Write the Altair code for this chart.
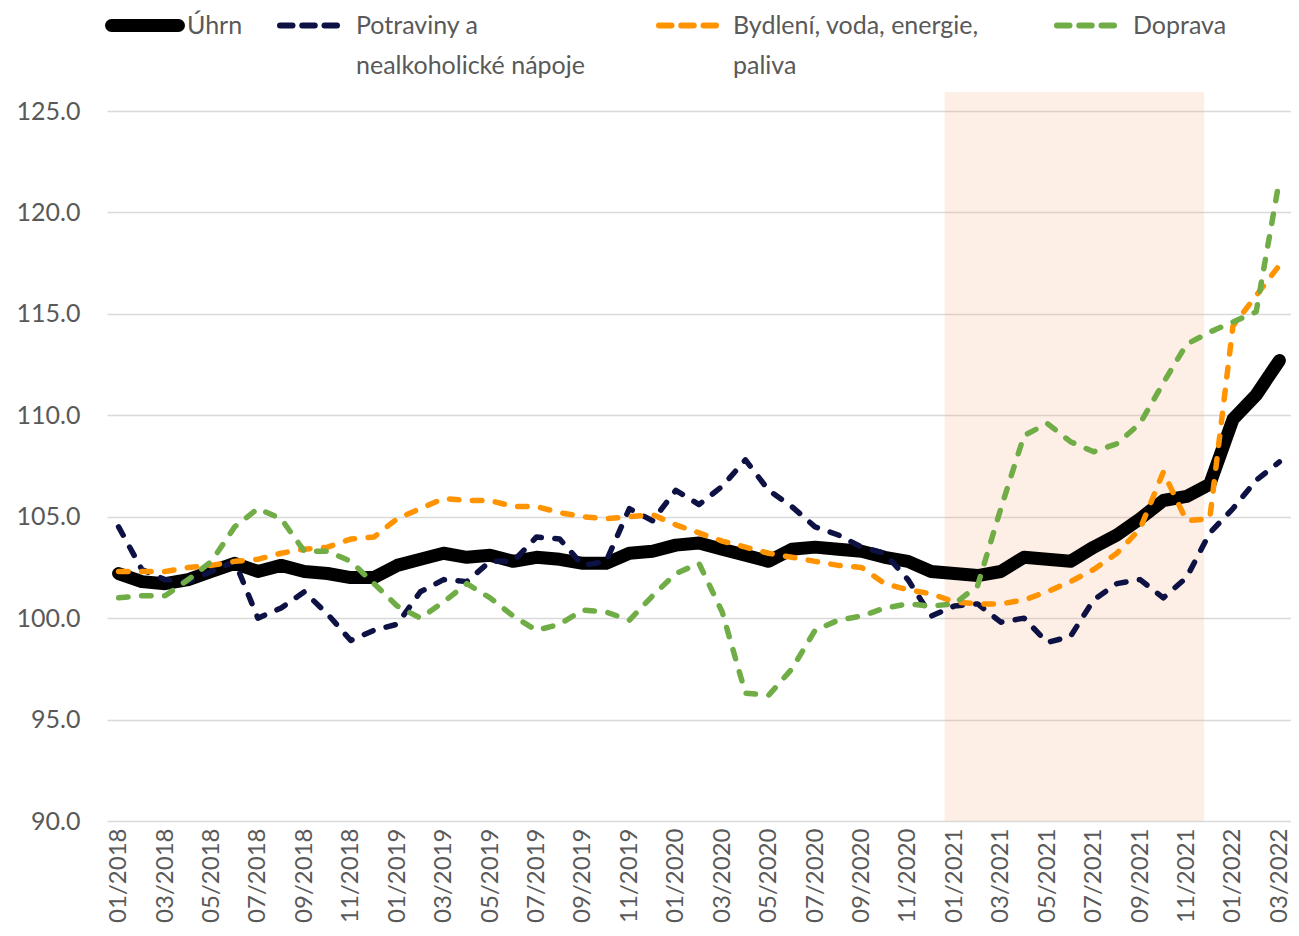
import json
import altair as alt
import pandas as pd

months = [
    "01/2018", "02/2018", "03/2018", "04/2018", "05/2018", "06/2018", "07/2018", "08/2018", "09/2018", "10/2018", "11/2018", "12/2018",
    "01/2019", "02/2019", "03/2019", "04/2019", "05/2019", "06/2019", "07/2019", "08/2019", "09/2019", "10/2019", "11/2019", "12/2019",
    "01/2020", "02/2020", "03/2020", "04/2020", "05/2020", "06/2020", "07/2020", "08/2020", "09/2020", "10/2020", "11/2020", "12/2020",
    "01/2021", "02/2021", "03/2021", "04/2021", "05/2021", "06/2021", "07/2021", "08/2021", "09/2021", "10/2021", "11/2021", "12/2021",
    "01/2022", "02/2022", "03/2022",
]

uhrn = [102.2, 101.8, 101.7, 101.9, 102.3, 102.7, 102.3, 102.6, 102.3, 102.2, 102.0, 102.0,
        102.6, 102.9, 103.2, 103.0, 103.1, 102.8, 103.0, 102.9, 102.7, 102.7, 103.2, 103.3,
        103.6, 103.7, 103.4, 103.1, 102.8, 103.4, 103.5, 103.4, 103.3, 103.0, 102.8, 102.3,
        102.2, 102.1, 102.3, 103.0, 102.9, 102.8, 103.5, 104.1, 104.9, 105.8, 106.0, 106.6,
        109.8, 111.0, 112.7]

potraviny = [104.5, 102.4, 101.9, 101.8, 102.3, 102.8, 100.0, 100.5, 101.3, 100.2, 98.9, 99.4,
             99.7, 101.3, 101.9, 101.8, 102.8, 102.8, 104.0, 103.9, 102.6, 102.8, 105.4, 104.8,
             106.3, 105.6, 106.5, 107.8, 106.3, 105.5, 104.5, 104.1, 103.5, 103.2, 101.9, 100.1,
             100.6, 100.7, 99.8, 100.0, 98.8, 99.1, 100.9, 101.7, 101.9, 101.0, 102.0, 104.2,
             105.4, 106.8, 107.7]

bydleni = [102.3, 102.3, 102.3, 102.5, 102.6, 102.8, 102.9, 103.2, 103.4, 103.5, 103.9, 104.0,
           104.9, 105.4, 105.9, 105.8, 105.8, 105.5, 105.5, 105.2, 105.0, 104.9, 105.0, 105.1,
           104.6, 104.2, 103.8, 103.5, 103.2, 103.0, 102.8, 102.6, 102.5, 101.7, 101.4, 101.2,
           100.8, 100.7, 100.7, 100.9, 101.3, 101.8, 102.4, 103.2, 104.4, 107.2, 104.8, 104.9,
           114.4, 115.9, 117.4]

doprava = [101.0, 101.1, 101.1, 101.9, 102.8, 104.5, 105.4, 104.9, 103.3, 103.3, 102.8, 101.7,
           100.6, 100.0, 100.8, 101.7, 101.0, 100.1, 99.4, 99.7, 100.4, 100.3, 99.9, 101.1,
           102.2, 102.7, 100.3, 96.3, 96.2, 97.5, 99.4, 99.9, 100.1, 100.5, 100.7, 100.6,
           100.7, 101.6, 105.4, 109.0, 109.6, 108.7, 108.2, 108.6, 109.6, 111.6, 113.5, 114.1,
           114.6, 115.1, 121.6]

series_names = ["Úhrn", "Potraviny a\nnealkoholické nápoje", "Bydlení, voda, energie,\npaliva", "Doprava"]
series_values = [uhrn, potraviny, bydleni, doprava]
series_colors = ["#000000", "#0E1143", "#FF9300", "#70AD47"]

# highlighted period (in month-index units) and its vertical extent
band_x = [35.58, 46.76]
band_y = [90.0, 125.94]

y_ticks = [90, 95, 100, 105, 110, 115, 120, 125]
x_ticks = list(range(0, 51, 2))

FONT = "Lato"
GREY = "#595959"

xscale = alt.Scale(domain=[-0.5, 50.5], nice=False, zero=False)
yscale = alt.Scale(domain=[90, 125], nice=False, zero=False)

xaxis = alt.Axis(
    values=x_ticks, title=None, grid=False, ticks=False, domain=False,
    labelAngle=-90, labelPadding=7, labelFont=FONT, labelFontSize=24,
    labelColor=GREY, labelFlush=False, labelOverlap=False,
    labelExpr=json.dumps(months, ensure_ascii=False) + "[datum.value]",
)
yaxis = alt.Axis(
    values=y_ticks, title=None, format=".1f", ticks=False, domain=False,
    grid=True, gridColor="#D9D9D9", gridWidth=1.5,
    labelFont=FONT, labelFontSize=25, labelColor=GREY, labelPadding=27,
)

band_df = pd.DataFrame({"x0": [band_x[0]], "x1": [band_x[1]], "y0": [band_y[0]], "y1": [band_y[1]]})
band = alt.Chart(band_df).mark_rect(fill="#F4B183", opacity=0.2).encode(
    x=alt.X("x0:Q", scale=xscale, axis=xaxis),
    x2="x1:Q",
    y=alt.Y("y0:Q", scale=yscale, axis=yaxis),
    y2="y1:Q",
)

layers = [band]
for k, (name, vals, col) in enumerate(zip(series_names, series_values, series_colors)):
    df = pd.DataFrame({"idx": list(range(len(vals))), "value": vals, "month": months})
    if k == 0:
        mk = alt.Chart(df).mark_line(color=col, strokeWidth=13, strokeCap="round", strokeJoin="round")
    else:
        mk = alt.Chart(df).mark_line(color=col, strokeWidth=5.5, strokeCap="round",
                                     strokeJoin="round", strokeDash=[9.5, 13.5])
    layers.append(mk.encode(
        x=alt.X("idx:Q", scale=xscale, axis=xaxis),
        y=alt.Y("value:Q", scale=yscale, axis=yaxis),
    ))

# manual legend (symbols + two-line labels)
one = pd.DataFrame({"a": [0]})
sym_x = [(4.5, 71.5), (173, 230), (552, 609), (950, 1007)]
txt_x = [80, 249, 626, 1026]
for k, (name, col) in enumerate(zip(series_names, series_colors)):
    if k == 0:
        sym = alt.Chart(one).mark_rule(color=col, strokeWidth=13, strokeCap="round")
    else:
        sym = alt.Chart(one).mark_rule(color=col, strokeWidth=6, strokeCap="round", strokeDash=[12.5, 9.75])
    layers.append(sym.encode(x=alt.value(sym_x[k][0]), x2=alt.value(sym_x[k][1]), y=alt.value(-85.5)))
    tdf = pd.DataFrame({"t": [name]})
    layers.append(alt.Chart(tdf).mark_text(
        font=FONT, fontSize=25, color=GREY, align="left", baseline="alphabetic",
        lineBreak="\n", lineHeight=40,
    ).encode(x=alt.value(txt_x[k]), y=alt.value(-77), text="t:N"))

chart = alt.layer(*layers).properties(
    width=1184, height=710,
    autosize=alt.AutoSizeParams(type="none"),
    padding={"left": 99, "top": 103, "right": 0, "bottom": 107},
).configure_view(stroke=None)

chart.save("out.html", embed_options={"renderer": "svg", "actions": False})
